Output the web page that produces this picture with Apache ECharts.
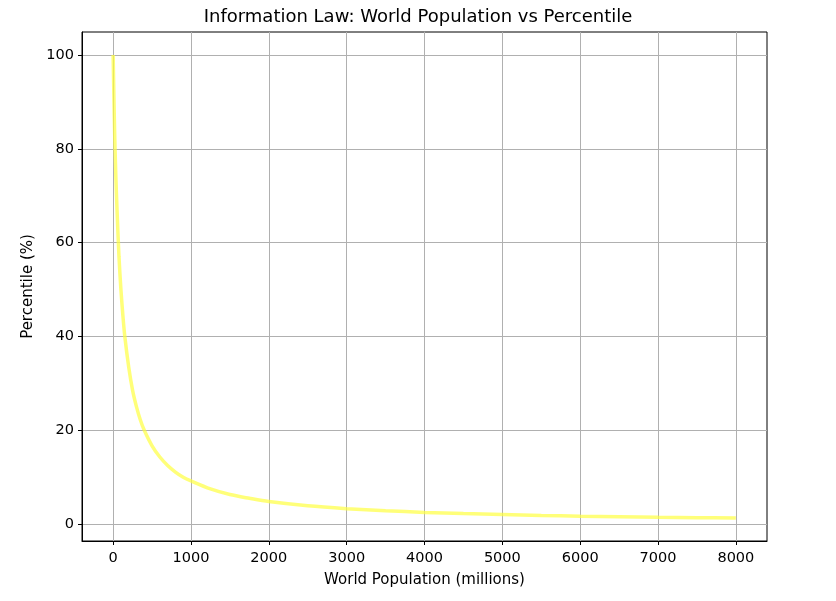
<!DOCTYPE html>
<html>
<head>
<meta charset="utf-8">
<title>Information Law</title>
<script src="https://cdn.jsdelivr.net/npm/echarts@6/dist/echarts.min.js"></script>
<style>
  html, body { margin: 0; padding: 0; background: #fff; }
  #grafico { width: 836px; height: 601px; }
</style>
</head>
<body>
<div id="grafico"></div>
<script>
// valores (populacao em milhoes x percentil)
var populacao = [0, 10, 20, 35, 50, 75, 100, 125, 150, 200, 250, 300, 350, 400,
  500, 600, 700, 800, 900, 1000, 1250, 1500, 1750, 2000, 2500, 3000, 3500,
  4000, 4500, 5000, 5500, 6000, 6500, 7000, 7500, 8000];
var percentil = [100, 91, 83, 74, 67, 57, 50, 44.5, 40, 33.5, 28.5, 25, 22.2, 20,
  16.7, 14.3, 12.5, 11.1, 10, 9.2, 7.5, 6.3, 5.5, 4.8, 3.9, 3.3, 2.85,
  2.5, 2.25, 2.05, 1.85, 1.7, 1.58, 1.47, 1.38, 1.3];
var ticksX = [0, 1000, 2000, 3000, 4000, 5000, 6000, 7000, 8000];
var ticksY = [0, 20, 40, 60, 80, 100];

var fonte = 'DejaVu Sans';
var pontos = [];
for (var i = 0; i < populacao.length; i++) {
  pontos.push([populacao[i], percentil[i]]);
}

var myChart = echarts.init(document.getElementById('grafico'));
var option = {
  animation: false,
  backgroundColor: '#fff',
  textStyle: { fontFamily: fonte },
  title: {
    text: 'Information Law: World Population vs Percentile',
    left: 'center',
    top: 3,
    textStyle: { fontFamily: fonte, fontSize: 18, fontWeight: 'normal', color: '#000' }
  },
  grid: {
    left: 82, right: 69, top: 32, bottom: 60,
    show: true, borderColor: '#000', borderWidth: 1
  },
  xAxis: {
    type: 'value',
    min: -400,
    max: 8400,
    name: 'World Population (millions)',
    nameLocation: 'middle',
    nameGap: 32,
    nameTextStyle: { fontFamily: fonte, fontSize: 15, color: '#000' },
    axisLine: { show: true, onZero: false, lineStyle: { color: '#000', width: 1 } },
    axisTick: { show: true, length: 4, customValues: ticksX, lineStyle: { color: '#000' } },
    axisLabel: {
      customValues: ticksX, margin: 10, fontFamily: fonte, fontSize: 14.5, color: '#000',
      formatter: function (v) { return String(v); }
    },
    splitLine: { show: true, lineStyle: { color: '#b0b0b0', width: 1 } }
  },
  yAxis: {
    type: 'value',
    min: -3.6,
    max: 104.9,
    name: 'Percentile (%)',
    nameLocation: 'middle',
    nameGap: 46,
    nameTextStyle: { fontFamily: fonte, fontSize: 15, color: '#000' },
    axisLine: { show: true, onZero: false, lineStyle: { color: '#000', width: 1 } },
    axisTick: { show: true, length: 4, customValues: ticksY, lineStyle: { color: '#000' } },
    axisLabel: {
      customValues: ticksY, margin: 8, fontFamily: fonte, fontSize: 14.5, color: '#000',
      formatter: function (v) { return String(v); }
    },
    splitLine: { show: true, lineStyle: { color: '#b0b0b0', width: 1 } }
  },
  series: [{
    type: 'line',
    data: pontos,
    smooth: 0.3,
    showSymbol: false,
    lineStyle: { color: '#ffff40', width: 3.5, opacity: 0.7 },
    itemStyle: { color: '#ffff40' }
  }]
};
option && myChart.setOption(option);
</script>
</body>
</html>
